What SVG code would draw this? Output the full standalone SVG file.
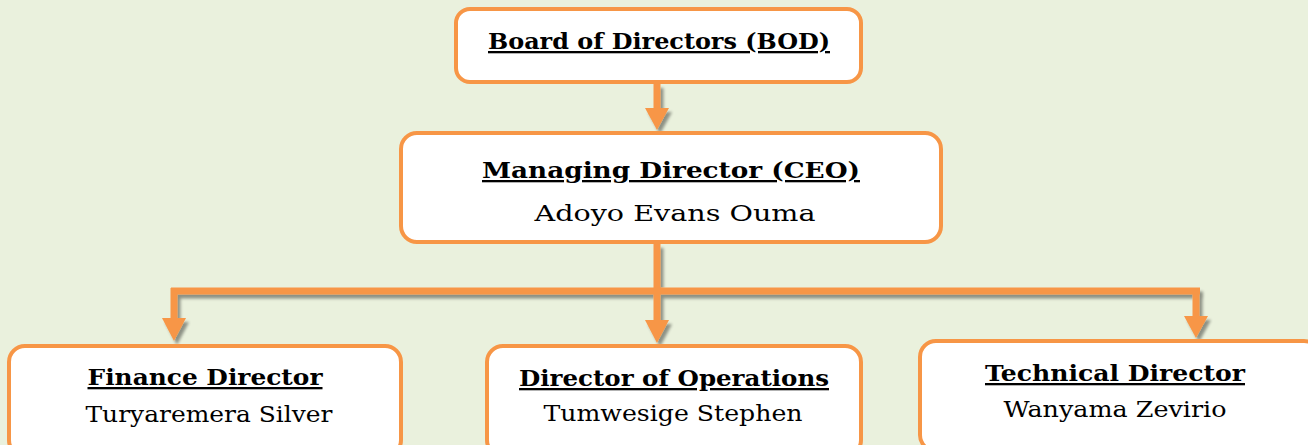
<svg xmlns="http://www.w3.org/2000/svg" width="1308" height="445" viewBox="0 0 1308 445">
<style>
.box{fill:#ffffff;stroke:#F79646;stroke-width:4}
.t{font-family:"DejaVu Serif","Liberation Serif",serif;font-size:23px;fill:#000;text-anchor:middle}
.b{font-weight:bold;text-decoration:underline}
.c{stroke:#F79646;stroke-width:7;fill:none}
.h{fill:#F79646}
</style>
<defs>
<filter id="sh" x="-20%" y="-20%" width="140%" height="160%">
<feGaussianBlur in="SourceAlpha" stdDeviation="1.5"/>
<feOffset dx="3" dy="4" result="o"/>
<feComponentTransfer><feFuncA type="linear" slope="0.4"/></feComponentTransfer>
<feMerge><feMergeNode/><feMergeNode in="SourceGraphic"/></feMerge>
</filter>
</defs>
<rect width="1308" height="445" fill="#EAF1DD"/>
<g id="connectors" filter="url(#sh)">
<line class="c" x1="657" y1="84" x2="657" y2="110"/>
<polygon class="h" points="645,108 669,108 657,130"/>
<line class="c" x1="657" y1="244" x2="657" y2="322"/>
<polygon class="h" points="645,320 669,320 657,343"/>
<line class="c" x1="171" y1="291" x2="1200" y2="291"/>
<line class="c" x1="174" y1="288" x2="174" y2="320"/>
<polygon class="h" points="162,318 186,318 174,341"/>
<line class="c" x1="1196" y1="288" x2="1196" y2="318"/>
<polygon class="h" points="1184,316 1208,316 1196,338"/>
</g>
<g id="bod">
<rect class="box" x="456" y="9" width="405" height="73" rx="14"/>
<text class="t b" x="659" y="49" textLength="342" lengthAdjust="spacingAndGlyphs">Board of Directors (BOD)</text>
</g>
<g id="ceo">
<rect class="box" x="401" y="133" width="540" height="109" rx="16"/>
<text class="t b" x="671" y="178" textLength="378" lengthAdjust="spacingAndGlyphs">Managing Director (CEO)</text>
<text class="t" x="675" y="221" textLength="281" lengthAdjust="spacingAndGlyphs">Adoyo Evans Ouma</text>
</g>
<g id="finance">
<rect class="box" x="9" y="346" width="392" height="110" rx="16"/>
<text class="t b" x="205" y="385" textLength="235" lengthAdjust="spacingAndGlyphs">Finance Director</text>
<text class="t" x="209" y="422" textLength="247" lengthAdjust="spacingAndGlyphs">Turyaremera Silver</text>
</g>
<g id="operations">
<rect class="box" x="487" y="346" width="374" height="110" rx="16"/>
<text class="t b" x="674" y="386" textLength="310" lengthAdjust="spacingAndGlyphs">Director of Operations</text>
<text class="t" x="673" y="421" textLength="259" lengthAdjust="spacingAndGlyphs">Tumwesige Stephen</text>
</g>
<g id="technical">
<rect class="box" x="920" y="341" width="400" height="110" rx="16"/>
<text class="t b" x="1115" y="381" textLength="260" lengthAdjust="spacingAndGlyphs">Technical Director</text>
<text class="t" x="1115" y="417" textLength="223" lengthAdjust="spacingAndGlyphs">Wanyama Zevirio</text>
</g>
</svg>
